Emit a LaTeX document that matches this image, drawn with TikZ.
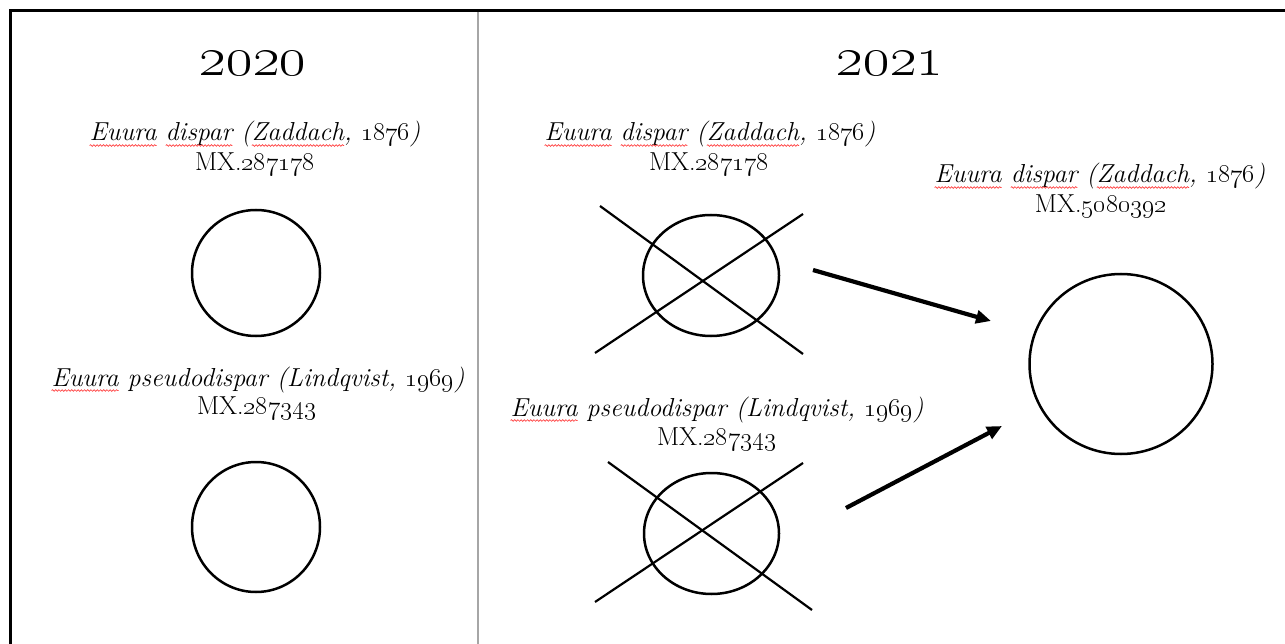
\documentclass[tikz,border=0pt]{standalone}
\usepackage{fix-cm}
\usetikzlibrary{shapes.geometric,arrows.meta,decorations.pathmorphing}
\newcommand\osf[1]{\oldstylenums{#1}}
\newsavebox\spbox
\newcommand\spellerr[1]{\sbox\spbox{#1}\edef\spw{\the\wd\spbox}\usebox\spbox\tikz[overlay,baseline=0pt]{\draw[red!75,line width=0.7pt,decorate,decoration={snake,amplitude=0.8pt,segment length=3.2pt}] (-\spw,-4.5pt) -- (0pt,-4.5pt);}}
\tikzset{
  yearlbl/.style={inner sep=0pt, anchor=base, font=\fontsize{57}{60}\selectfont},
  splbl/.style={inner sep=0pt, anchor=base, font=\fontsize{26}{30}\selectfont\itshape},
  idlbl/.style={inner sep=0pt, anchor=base, font=\fontsize{26}{30}\selectfont},
  taxon/.style={ellipse, draw, line width=2.5pt, inner sep=0pt},
  crossline/.style={line width=2.2pt},
  mergearrow/.style={line width=4.2pt, -{Triangle[length=15pt,width=13pt]}},
}
\begin{document}
\begin{tikzpicture}[x=1pt,y=-1pt]
\useasboundingbox (0,0) rectangle (1285,644);
% frame
\draw[line width=3pt] (10,644) -- (10,11) -- (1285,11);
\draw[gray!70, line width=1.5pt] (478,12) -- (478,644);
% years
\node[yearlbl] (y20) at (253,76) {\osf{2020}};
\node[yearlbl] (y21) at (890,76) {\osf{2021}};
% 2020
\node[splbl] (l1a) at (255,141) {\spellerr{Euura} \spellerr{dispar} (\spellerr{Zaddach}, \osf{1876})};
\node[idlbl] (l1b) at (255,171) {MX.\osf{287178}};
\node[taxon, minimum width=128pt, minimum height=126pt] (c1) at (256,273) {};
\node[splbl] (l2a) at (258,386) {\spellerr{Euura} pseudodispar (Lindqvist, \osf{1969})};
\node[idlbl] (l2b) at (257,414) {MX.\osf{287343}};
\node[taxon, minimum width=128pt, minimum height=130pt] (c2) at (256,527) {};
% 2021
\node[splbl] (r1a) at (710,141) {\spellerr{Euura} \spellerr{dispar} (\spellerr{Zaddach}, \osf{1876})};
\node[idlbl] (r1b) at (709,171) {MX.\osf{287178}};
\node[taxon, minimum width=136pt, minimum height=121pt] (x1) at (711,275.5) {};
\draw[crossline] (600,206) -- (803,354);
\draw[crossline] (595,353) -- (803,214);
\node[splbl] (r2a) at (717,416) {\spellerr{Euura} pseudodispar (Lindqvist, \osf{1969})};
\node[idlbl] (r2b) at (717,445) {MX.\osf{287343}};
\node[taxon, minimum width=135pt, minimum height=121pt] (x2) at (711.5,533.5) {};
\draw[crossline] (608,462) -- (812,610);
\draw[crossline] (595,602) -- (803,463);
\node[splbl] (r3a) at (1100,183) {\spellerr{Euura} \spellerr{dispar} (\spellerr{Zaddach}, \osf{1876})};
\node[idlbl] (r3b) at (1101,213) {MX.\osf{5080392}};
\node[taxon, minimum width=183pt, minimum height=180pt] (big) at (1121,364) {};
% arrows
\coordinate (a1s) at (813,270);
\coordinate (a1e) at (991,321);
\coordinate (a2s) at (846,508);
\coordinate (a2e) at (1002,426);
\draw[mergearrow] (a1s) -- (a1e);
\draw[mergearrow] (a2s) -- (a2e);
\end{tikzpicture}
\end{document}
